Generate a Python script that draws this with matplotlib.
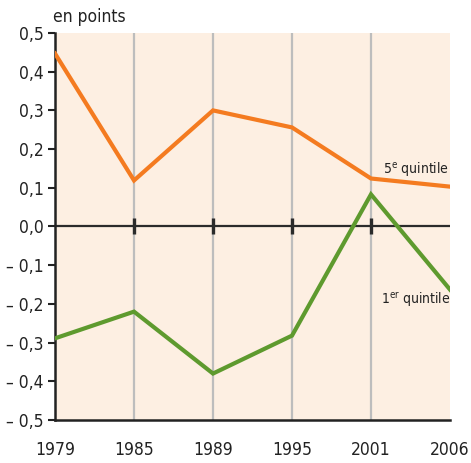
import matplotlib
matplotlib.use("Agg")
import matplotlib.pyplot as plt

years = ["1979", "1985", "1989", "1995", "2001", "2006"]
q5 = [0.447, 0.119, 0.300, 0.256, 0.124, 0.103]
q1 = [-0.289, -0.220, -0.380, -0.282, 0.083, -0.163]
yticks = [0.5, 0.4, 0.3, 0.2, 0.1, 0.0, -0.1, -0.2, -0.3, -0.4, -0.5]

plt.rcParams['font.family'] = ['DejaVu Sans']
plt.rcParams['font.stretch'] = 'condensed'

fig = plt.figure(figsize=(4.71, 4.63), dpi=100)
ax = fig.add_axes([0.1168, 0.0929, 0.8386, 0.8358])
ax.set_facecolor('#FDEFE2')
x = list(range(len(years)))
ax.set_xlim(0, len(years) - 1)
ax.set_ylim(-0.5, 0.5)

for xi in x[1:-1]:
    ax.axvline(xi, color='#BDBDBD', lw=1.6, zorder=1)
ax.axhline(0, color='#2B2B2B', lw=1.6, zorder=2)
ax.plot(x[1:-1], [0] * (len(x) - 2), ls='none', marker='|', ms=11, mew=2.4, color='#2B2B2B', zorder=3)

ax.plot(x, q5, color='#F47B20', lw=3, zorder=4, solid_joinstyle='miter')
ax.plot(x, q1, color='#5E9A2E', lw=3, zorder=4, solid_joinstyle='miter')

def fmt(v):
    s = f"{abs(v):.1f}".replace('.', ',')
    return ("\u2013 " + s) if v < -1e-9 else s

ax.set_yticks(yticks)
ax.set_yticklabels([fmt(v) for v in yticks], fontsize=12.5, color='#222222')
ax.set_xticks(x)
ax.set_xticklabels(years, fontsize=12.5, color='#222222')
ax.tick_params(axis='x', length=0, pad=15)
ax.tick_params(axis='y', length=5, width=1.5, direction='out', pad=3, color='#222222')
for s in ['top', 'right']:
    ax.spines[s].set_visible(False)
for s in ['left', 'bottom']:
    ax.spines[s].set_linewidth(1.8)
    ax.spines[s].set_color('#222222')

fig.text(0.113, 0.963, "en points", fontsize=12.5, color='#222222', ha='left', va='center')
ax.text(4.15, 0.145, r"5$^{\mathrm{e}}$ quintile", fontsize=10, color='#222222', ha='left', va='center')
ax.text(4.13, -0.19, r"1$^{\mathrm{er}}$ quintile", fontsize=10, color='#222222', ha='left', va='center')

fig.savefig("out.png", dpi=100)
